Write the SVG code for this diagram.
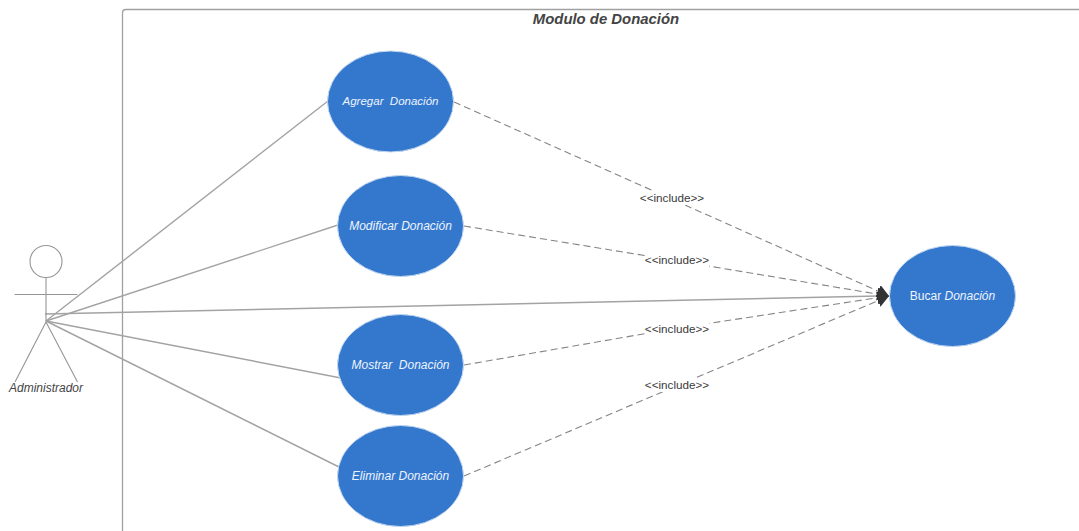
<svg xmlns="http://www.w3.org/2000/svg" width="1079" height="531" viewBox="0 0 1079 531">
<style>
text{font-family:"Liberation Sans",Arial,sans-serif}
.uc{fill:#3478ce;stroke:#c4d8f0;stroke-width:1}
.ut{fill:#eef4fc;font-size:12px;font-style:italic;text-anchor:middle}
.as{stroke:#a3a3a3;stroke-width:1.4;fill:none}
.inc{stroke:#858585;stroke-width:1.1;fill:none;stroke-dasharray:7 4}
.lb{fill:#fff}
.lt{fill:#3a3a3a;font-size:11.700px;text-anchor:middle}
.ac{stroke:#969696;stroke-width:1.1;fill:none}
</style>
<defs>
<marker id="arrow" markerUnits="userSpaceOnUse" markerWidth="13" markerHeight="14" refX="12" refY="6.500" orient="auto">
<path d="M0 0L12 6.500L0 13Z" fill="#333"/>
</marker>
</defs>
<g id="boundary">
<path d="M1079 9.500H126Q122.500 9.500 122.500 13V531" fill="none" stroke="#a0a0a0" stroke-width="1.3"/>
<text x="606" y="24" font-size="14.900" font-weight="bold" font-style="italic" text-anchor="middle" fill="#444">Modulo de Donación</text>
</g>
<g id="connectors">
<path class="as" d="M46 321L328 101"/>
<path class="as" d="M46 321L338 225"/>
<path class="as" d="M45 314L878 296"/>
<path class="as" d="M46 321L341 378"/>
<path class="as" d="M46 321L339 467"/>
<path class="inc" d="M454 102L889 296" marker-end="url(#arrow)"/>
<path class="inc" d="M464 226L672 260L889 296" marker-end="url(#arrow)"/>
<path class="inc" d="M464 365L672 329L889 296" marker-end="url(#arrow)"/>
<path class="inc" d="M464 476L889 296" marker-end="url(#arrow)"/>
<g>
<rect class="lb" x="640" y="191" width="64" height="14"/><text class="lt" x="672" y="202">&lt;&lt;include&gt;&gt;</text>
<rect class="lb" x="645" y="253" width="64" height="14"/><text class="lt" x="677" y="264">&lt;&lt;include&gt;&gt;</text>
<rect class="lb" x="645" y="322" width="64" height="14"/><text class="lt" x="677" y="333">&lt;&lt;include&gt;&gt;</text>
<rect class="lb" x="645" y="378" width="64" height="14"/><text class="lt" x="677" y="389">&lt;&lt;include&gt;&gt;</text>
</g>
</g>
<g id="actor">
<circle class="ac" cx="46" cy="261.500" r="16"/>
<path class="ac" d="M46 277.500V322M14.500 294.500H77.500M46 322L15 382M46 322L77.500 382"/>
<text x="46" y="392" font-size="12" font-style="italic" text-anchor="middle" fill="#444">Administrador</text>
</g>
<g id="agregar"><ellipse class="uc" cx="390.500" cy="101.500" rx="63" ry="50.500"/><text class="ut" x="390.500" y="105" style="white-space:pre;font-size:11.500px">Agregar  Donación</text></g>
<g id="modificar"><ellipse class="uc" cx="400.500" cy="226" rx="63" ry="50.500"/><text class="ut" x="400.500" y="230">Modificar Donación</text></g>
<g id="mostrar"><ellipse class="uc" cx="400.500" cy="365" rx="63" ry="50.500"/><text class="ut" x="400.500" y="369" style="white-space:pre">Mostrar  Donación</text></g>
<g id="eliminar"><ellipse class="uc" cx="400.500" cy="476" rx="63" ry="50.500"/><text class="ut" x="400.500" y="480">Eliminar Donación</text></g>
<g id="buscar"><ellipse class="uc" cx="952.500" cy="296" rx="63" ry="50.500"/><text class="ut" x="952.500" y="300"><tspan font-style="normal">Bucar </tspan>Donación</text></g>
</svg>
